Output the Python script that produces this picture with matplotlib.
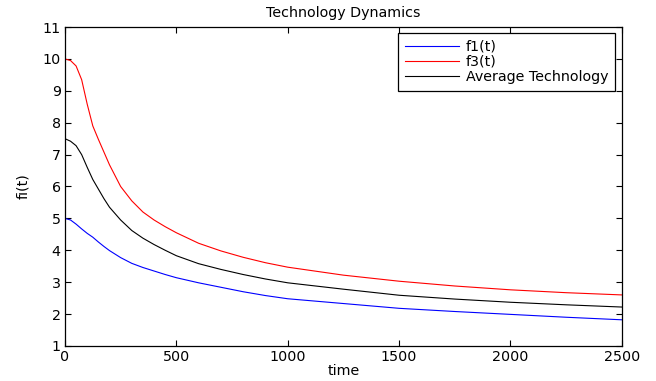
import matplotlib
matplotlib.use('Agg')
import matplotlib.pyplot as plt

#%% data
t = [0, 25, 50, 75, 100, 125, 150, 175, 200, 250, 300, 350, 400, 450, 500,
     600, 700, 800, 900, 1000, 1250, 1500, 1750, 2000, 2250, 2500]
f1 = [5.0, 4.95, 4.82, 4.67, 4.53, 4.41, 4.26, 4.12, 3.99, 3.77, 3.59, 3.46,
      3.35, 3.24, 3.14, 2.98, 2.84, 2.70, 2.58, 2.48, 2.33, 2.18, 2.08, 1.99,
      1.90, 1.82]
f3 = [10.0, 9.95, 9.78, 9.35, 8.58, 7.9, 7.48, 7.08, 6.68, 6.0, 5.55, 5.2,
      4.95, 4.74, 4.55, 4.22, 3.98, 3.78, 3.61, 3.47, 3.22, 3.03, 2.88, 2.76,
      2.67, 2.60]
avg = [7.5, 7.42, 7.28, 7.0, 6.6, 6.22, 5.92, 5.62, 5.35, 4.95, 4.62, 4.38,
       4.18, 4.0, 3.83, 3.58, 3.4, 3.24, 3.1, 2.98, 2.78, 2.59, 2.47, 2.37,
       2.29, 2.22]
xticks = [0, 500, 1000, 1500, 2000, 2500]
yticks = list(range(1, 12))

#%% plot
fs = 10.3
plt.rcParams['font.family'] = ['DejaVu Sans']
plt.rcParams['font.size'] = fs

fig = plt.figure(figsize=(6.56, 3.81), dpi=100)
ax = fig.add_axes([0.099, 0.092, 0.849, 0.837])

ax.plot(t, f1, color='#0000ff', lw=0.8, label='f1(t)')
ax.plot(t, f3, color='#ff0000', lw=0.8, label='f3(t)')
ax.plot(t, avg, color='black', lw=0.8, label='Average Technology')

ax.set_xlim(0, 2500)
ax.set_ylim(1, 11)
ax.set_xticks(xticks)
ax.set_yticks(yticks)
ax.tick_params(direction='in', length=4, width=0.8, top=True, right=True,
               labelsize=fs, pad=3)
for s in ax.spines.values():
    s.set_linewidth(0.9)

ax.set_title('Technology Dynamics', fontsize=fs, pad=7)
ax.set_xlabel('time', fontsize=fs, labelpad=0)
ax.set_ylabel('fi(t)', fontsize=fs, labelpad=9)

leg = ax.legend(loc='upper right', bbox_to_anchor=(0.987, 0.981), fontsize=fs,
                fancybox=False, framealpha=1, edgecolor='black',
                handlelength=3.8, handletextpad=0.45, borderpad=0.45,
                labelspacing=0.1, borderaxespad=0)
leg.get_frame().set_linewidth(0.9)

fig.savefig('out.png', dpi=100)
